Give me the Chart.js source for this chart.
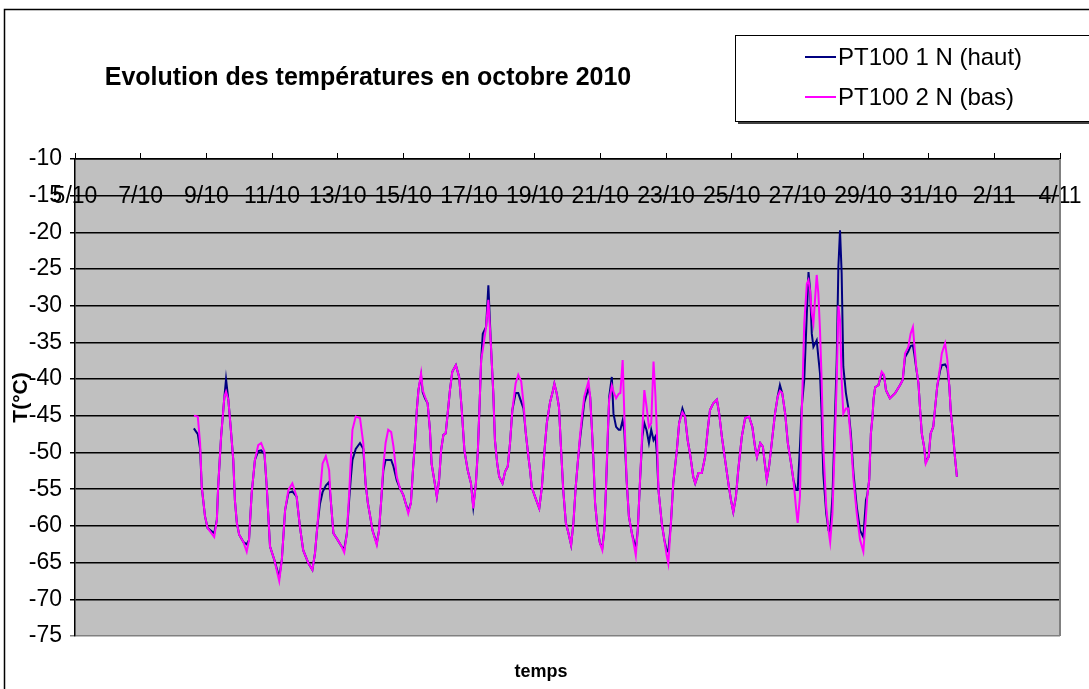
<!DOCTYPE html>
<html>
<head>
<meta charset="utf-8">
<script src="https://cdn.jsdelivr.net/npm/chart.js@4.4.0/dist/chart.umd.min.js"></script>
<style>
  body { margin: 0; background: #fff; }
  canvas { display: block; }
</style>
</head>
<body>
<canvas id="tempChart" width="1089" height="689"></canvas>
<script>
// jours d'octobre (32 = 1/11)
const jours = [
  8.62, 8.74, 8.81, 8.86, 8.96, 9.04, 9.24, 9.32, 9.36, 9.45, 9.55, 9.60, 9.67, 9.74, 9.82, 9.87, 9.93,
  10.00, 10.13, 10.23, 10.30, 10.38, 10.48, 10.58, 10.67, 10.77, 10.84, 10.94,
  11.07, 11.22, 11.30, 11.40, 11.50, 11.62, 11.75, 11.85, 11.95,
  12.11, 12.23, 12.31, 12.38, 12.46, 12.54, 12.64, 12.74, 12.79, 12.87,
  13.00, 13.12, 13.20, 13.28, 13.35, 13.40, 13.45, 13.55, 13.68, 13.78, 13.85, 13.92, 13.99,
  14.06, 14.19, 14.26, 14.32, 14.39, 14.46, 14.54, 14.63, 14.70, 14.80, 14.90,
  15.00, 15.07, 15.15, 15.23, 15.30, 15.36, 15.41, 15.46, 15.54, 15.59, 15.66, 15.74, 15.81, 15.86, 15.94,
  16.02, 16.09, 16.15, 16.22, 16.29, 16.35, 16.42, 16.49, 16.60, 16.70, 16.78, 16.86, 16.96,
  17.06, 17.13, 17.21, 17.27, 17.32, 17.37, 17.42, 17.52, 17.59, 17.67, 17.74, 17.79, 17.86, 17.92,
  18.02, 18.10, 18.18, 18.25, 18.32, 18.42, 18.50, 18.59, 18.66, 18.73, 18.81, 18.86, 18.91,
  19.01, 19.14, 19.22, 19.30, 19.37, 19.47, 19.54, 19.60, 19.67, 19.74, 19.80, 19.87, 19.95,
  20.03, 20.11, 20.18, 20.25, 20.31, 20.38, 20.45, 20.51, 20.64, 20.69, 20.74, 20.79, 20.84, 20.92, 20.99,
  21.06, 21.12, 21.17, 21.23, 21.27, 21.35, 21.40, 21.48, 21.56, 21.61, 21.68, 21.73, 21.80, 21.87, 21.96,
  22.08, 22.14, 22.21, 22.28, 22.34, 22.41, 22.48, 22.55, 22.62, 22.68, 22.72, 22.77, 22.87, 22.95,
  23.02, 23.07, 23.15, 23.22, 23.33, 23.40, 23.50, 23.58, 23.66, 23.73, 23.83, 23.89, 23.99,
  24.09, 24.19, 24.27, 24.34, 24.44, 24.55, 24.62, 24.70, 24.80, 24.90, 24.98,
  25.05, 25.13, 25.20, 25.31, 25.41, 25.53, 25.63, 25.71, 25.77, 25.87, 25.95,
  26.02, 26.07, 26.14, 26.22, 26.32, 26.40, 26.47, 26.54, 26.63, 26.71, 26.81, 26.88, 26.96,
  27.01, 27.08, 27.13, 27.21, 27.29, 27.34, 27.39, 27.44, 27.49, 27.59, 27.64, 27.69, 27.74, 27.79, 27.88, 27.95,
  28.00, 28.07, 28.13, 28.20, 28.25, 28.30, 28.35, 28.40, 28.48, 28.55, 28.63, 28.71, 28.81, 28.91,
  29.01, 29.09, 29.13, 29.19, 29.24, 29.29, 29.32, 29.37, 29.47, 29.57, 29.64, 29.70, 29.82, 29.98,
  30.13, 30.21, 30.28, 30.38, 30.45, 30.52, 30.56, 30.62, 30.69, 30.74, 30.79, 30.86, 30.91,
  31.00, 31.06, 31.14, 31.19, 31.26, 31.35, 31.40, 31.50, 31.57, 31.63, 31.67, 31.74, 31.80, 31.86
];

// PT100 1 N (haut)
const haut = [
  -46.7, -47.5, -49.5, -54.7, -58.7, -60.3, -61.0, -59.2, -54.7, -47.8, -42.4, -40.0, -42.8, -46.5, -51.0, -56.5, -59.6,
  -61.2, -62.2, -62.5, -61.9, -55.6, -51.0, -49.8, -49.7, -50.2, -54.7, -62.8,
  -64.6, -67.0, -64.6, -57.8, -55.5, -55.3, -56.0, -60.1, -63.3,
  -65.1, -66.0, -63.7, -60.1, -57.0, -55.4, -54.5, -54.0, -56.5, -61.0,
  -61.9, -62.8, -63.2, -61.0, -56.5, -53.5, -51.0, -49.5, -48.7, -49.5, -54.2, -56.9, -58.7,
  -60.6, -62.4, -60.6, -56.9, -52.5, -51.0, -51.0, -51.0, -51.9, -53.8, -54.9,
  -55.8, -56.9, -58.0, -56.9, -51.9, -48.3, -44.2, -41.5, -39.5, -41.8, -42.6, -43.3, -46.9, -51.5, -53.7,
  -56.0, -53.7, -49.7, -47.6, -47.4, -44.7, -41.5, -39.0, -38.1, -39.7, -44.2, -49.7, -52.4,
  -54.2, -57.4, -54.2, -49.7, -43.8, -37.4, -33.8, -32.9, -27.2, -35.6, -41.9, -48.3, -51.5, -53.3,
  -54.2, -52.6, -51.9, -48.7, -44.2, -41.9, -41.9, -43.1, -44.0, -47.4, -50.6, -52.4, -54.7,
  -56.0, -57.6, -54.7, -49.7, -46.0, -43.1, -41.9, -40.6, -41.9, -43.8, -49.2, -55.1, -59.6,
  -61.0, -62.6, -59.6, -54.7, -51.5, -48.2, -45.5, -43.2, -41.2, -42.4, -46.5, -51.0, -56.9, -60.6, -62.4,
  -63.0, -60.6, -55.1, -47.5, -42.4, -39.7, -44.7, -46.5, -46.9, -46.9, -45.6, -47.0, -53.7, -58.7, -61.0,
  -63.1, -60.6, -53.7, -47.8, -46.0, -47.0, -48.7, -46.9, -48.3, -47.8, -50.0, -55.1, -59.6, -61.9,
  -63.3, -63.5, -59.6, -54.2, -49.7, -46.0, -44.0, -45.1, -48.3, -50.1, -53.3, -54.2, -52.8,
  -52.8, -50.6, -46.9, -44.2, -43.3, -42.8, -44.7, -47.8, -51.0, -54.2, -56.5,
  -58.1, -56.0, -52.4, -47.8, -45.3, -45.1, -46.5, -49.2, -50.6, -48.7, -49.2,
  -51.9, -53.7, -51.9, -48.7, -44.7, -42.4, -40.8, -41.9, -44.7, -48.7, -51.5, -53.7, -55.1,
  -55.1, -49.2, -44.0, -40.1, -31.0, -25.4, -27.9, -33.8, -35.6, -34.7, -37.0, -39.2, -44.7, -52.8, -58.3, -60.6,
  -60.8, -56.0, -47.4, -37.4, -24.7, -19.7, -25.6, -38.3, -41.9, -43.8, -47.4, -52.8, -57.4, -60.6,
  -61.5, -56.5, -55.8, -53.7, -47.4, -45.1, -42.8, -41.1, -40.8, -39.2, -39.5, -41.5, -42.6, -41.9,
  -40.8, -40.1, -37.0, -36.2, -35.5, -35.4, -36.5, -38.5, -40.6, -44.2, -47.4, -49.2, -51.3,
  -50.6, -47.4, -46.5, -44.2, -41.0, -38.8, -38.1, -38.0, -38.5, -41.0, -44.2, -47.4, -50.6, -53.3
];

// PT100 2 N (bas)
const bas = [
  -45.0, -45.1, -48.7, -54.7, -58.7, -60.3, -61.5, -59.2, -54.7, -47.8, -42.4, -41.7, -42.8, -46.5, -51.0, -56.5, -59.6,
  -61.2, -62.2, -63.5, -61.9, -55.6, -51.0, -49.0, -48.7, -49.9, -54.7, -62.8,
  -64.6, -67.5, -64.6, -57.8, -55.1, -54.2, -56.0, -60.1, -63.3,
  -65.1, -66.0, -63.7, -60.1, -55.6, -51.5, -50.5, -52.4, -56.5, -61.0,
  -61.9, -62.8, -63.6, -61.0, -55.6, -51.0, -46.9, -45.1, -45.3, -48.7, -54.2, -56.9, -58.7,
  -60.6, -62.6, -60.6, -56.9, -51.9, -48.7, -46.9, -47.2, -49.2, -53.3, -54.9,
  -55.8, -56.9, -58.3, -56.9, -51.9, -48.3, -44.2, -41.5, -39.2, -41.5, -42.4, -43.3, -46.9, -51.5, -53.7,
  -56.0, -53.7, -49.7, -47.6, -47.4, -44.7, -41.5, -39.0, -38.1, -39.7, -44.2, -49.7, -52.4,
  -54.2, -57.6, -54.2, -49.7, -43.8, -37.4, -36.0, -32.9, -29.2, -35.6, -41.9, -48.3, -51.5, -53.3,
  -54.2, -52.6, -51.9, -48.7, -44.2, -40.6, -39.4, -40.3, -43.3, -47.4, -50.6, -52.4, -54.7,
  -56.0, -57.6, -54.7, -49.7, -46.0, -43.1, -41.9, -40.6, -41.9, -43.8, -49.2, -55.1, -59.6,
  -61.0, -62.6, -59.6, -54.7, -51.5, -47.8, -44.7, -42.4, -40.3, -42.4, -46.5, -51.0, -56.9, -60.6, -62.4,
  -63.3, -60.6, -55.1, -46.9, -42.8, -40.9, -41.7, -42.6, -42.0, -41.9, -37.4, -44.7, -53.7, -58.7, -61.0,
  -64.0, -60.6, -53.7, -46.9, -41.5, -43.8, -46.5, -46.0, -37.6, -42.4, -46.9, -55.1, -59.6, -61.9,
  -64.0, -65.1, -59.6, -54.2, -49.7, -46.0, -44.5, -45.1, -48.3, -50.1, -53.3, -54.2, -52.8,
  -52.8, -50.6, -46.9, -44.2, -43.3, -42.8, -44.7, -47.8, -51.0, -54.2, -56.5,
  -58.1, -56.0, -52.4, -47.8, -45.3, -45.1, -46.5, -49.2, -50.6, -48.7, -49.2,
  -51.9, -53.7, -51.9, -48.7, -44.7, -42.4, -41.6, -41.9, -44.7, -48.7, -51.5, -53.7, -57.5,
  -59.6, -56.0, -45.6, -32.4, -27.0, -26.5, -28.0, -31.0, -32.4, -25.8, -28.3, -33.3, -40.1, -49.2, -57.4, -60.6,
  -62.2, -58.3, -50.1, -40.1, -30.0, -31.9, -40.1, -44.7, -44.0, -44.0, -48.3, -53.7, -58.3, -61.9,
  -63.5, -58.7, -56.0, -53.7, -47.4, -45.1, -42.8, -41.1, -40.8, -39.0, -39.4, -41.5, -42.6, -41.9,
  -40.8, -40.1, -36.5, -35.6, -33.8, -32.9, -35.1, -38.3, -40.6, -44.2, -47.4, -49.2, -51.5,
  -50.6, -47.4, -46.5, -44.2, -41.0, -38.3, -36.5, -35.1, -37.4, -41.0, -44.2, -47.4, -50.6, -53.3
];

const etiquettesX = ['5/10', '7/10', '9/10', '11/10', '13/10', '15/10', '17/10', '19/10',
  '21/10', '23/10', '25/10', '27/10', '29/10', '31/10', '2/11', '4/11'];

const police = "'Liberation Sans', Arial, sans-serif";

// fond gris de la zone de tracé, cadre, titre, légende
const cadrePlugin = {
  id: 'cadre',
  beforeDraw(chart) {
    const { ctx, chartArea: a } = chart;
    ctx.save();
    ctx.fillStyle = '#fff';
    ctx.fillRect(0, 0, chart.width, chart.height);
    ctx.fillStyle = '#c0c0c0';
    ctx.fillRect(a.left, a.top, a.right - a.left, a.bottom - a.top);
    ctx.restore();
  },
  afterDraw(chart) {
    const { ctx, chartArea: a } = chart;
    ctx.save();
    // bord droit gris
    ctx.strokeStyle = '#808080';
    ctx.lineWidth = 2;
    ctx.beginPath();
    ctx.moveTo(a.right, a.top);
    ctx.lineTo(a.right, a.bottom);
    ctx.stroke();

    // cadre extérieur
    ctx.strokeStyle = '#000';
    ctx.lineWidth = 1.5;
    ctx.beginPath();
    ctx.moveTo(4.5, chart.height + 2);
    ctx.lineTo(4.5, 9.5);
    ctx.lineTo(chart.width + 2, 9.5);
    ctx.stroke();

    // titre
    ctx.fillStyle = '#000';
    ctx.font = 'bold 25px ' + police;
    ctx.textAlign = 'center';
    ctx.textBaseline = 'middle';
    ctx.fillText('Evolution des températures en octobre 2010', 368, 78);

    // titre axe x
    ctx.font = 'bold 18px ' + police;
    ctx.fillText('temps', 541, 672);

    // légende
    ctx.fillStyle = '#404040';
    ctx.fillRect(738, 121, chart.width, 3);
    ctx.fillStyle = '#fff';
    ctx.fillRect(735.5, 35.5, chart.width, 86);
    ctx.strokeStyle = '#000';
    ctx.lineWidth = 1;
    ctx.strokeRect(735.5, 35.5, chart.width, 86);
    ctx.font = '24px ' + police;
    ctx.textAlign = 'left';
    chart.data.datasets.forEach((ds, i) => {
      const y = 57 + i * 40;
      ctx.strokeStyle = ds.borderColor;
      ctx.lineWidth = 2;
      ctx.beginPath();
      ctx.moveTo(805, y);
      ctx.lineTo(836, y);
      ctx.stroke();
      ctx.fillStyle = '#000';
      ctx.fillText(ds.label, 838, y + 1);
    });
    ctx.restore();
  }
};

new Chart(document.getElementById('tempChart'), {
  type: 'line',
  data: {
    labels: jours,
    datasets: [
      {
        label: 'PT100 1 N (haut)',
        data: jours.map((j, i) => ({ x: j, y: haut[i] })),
        borderColor: '#000080',
        borderWidth: 2,
        pointRadius: 0,
        tension: 0,
        order: 2
      },
      {
        label: 'PT100 2 N (bas)',
        data: jours.map((j, i) => ({ x: j, y: bas[i] })),
        borderColor: '#ff00ff',
        borderWidth: 2,
        pointRadius: 0,
        tension: 0,
        order: 1
      }
    ]
  },
  options: {
    responsive: false,
    animation: false,
    layout: { padding: { left: 0, top: 153, right: 29, bottom: 53 } },
    plugins: {
      legend: { display: false },
      title: { display: false },
      tooltip: { enabled: false }
    },
    scales: {
      x: {
        type: 'linear',
        position: { y: -10 },
        min: 5,
        max: 35,
        afterFit: s => { s.paddingLeft = 0; s.paddingRight = 0; },
        grid: { display: false, drawTicks: false },
        border: { display: false },
        ticks: {
          stepSize: 2,
          autoSkip: false,
          maxRotation: 0,
          padding: 24,
          color: '#000',
          font: { family: police, size: 23 },
          callback: v => etiquettesX[(v - 5) / 2]
        }
      },
      xHaut: {
        type: 'linear',
        position: 'top',
        min: 5,
        max: 35,
        grid: { drawOnChartArea: false, drawTicks: true, tickLength: 6, color: '#000' },
        border: { display: true, color: '#000', width: 1.5 },
        ticks: { display: false, stepSize: 2 }
      },
      y: {
        min: -75,
        max: -10,
        afterFit: s => { s.width = 75; },
        grid: {
          color: c => (c.tick && c.tick.value === -75 ? '#808080' : '#000'),
          lineWidth: 1.5,
          tickLength: 5
        },
        border: { display: true, color: '#000', width: 1.5 },
        ticks: {
          stepSize: 5,
          padding: 8,
          color: '#000',
          font: { family: police, size: 23 }
        },
        title: {
          display: true,
          text: 'T(°C)',
          color: '#000',
          padding: { top: 9, bottom: 0 },
          font: { family: police, size: 21, weight: 'bold' }
        }
      }
    }
  },
  plugins: [cadrePlugin]
});
</script>
</body>
</html>
